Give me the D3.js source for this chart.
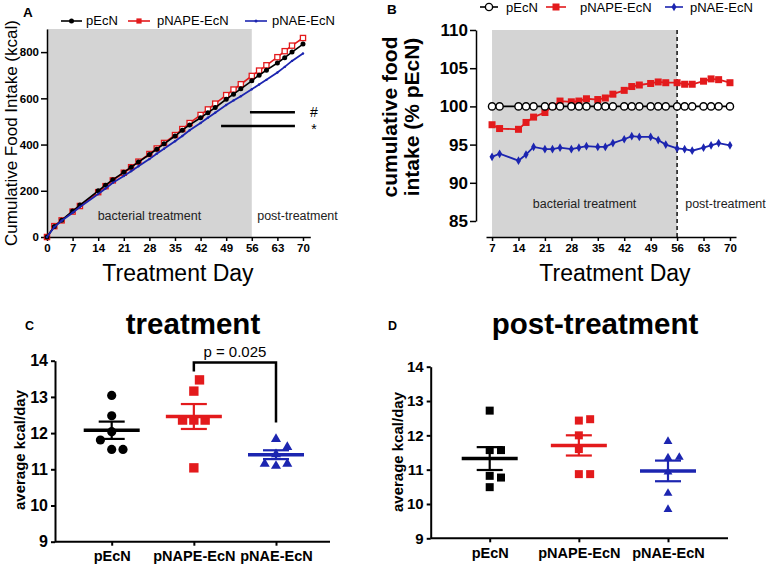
<!DOCTYPE html>
<html><head><meta charset="utf-8">
<script src="https://cdn.jsdelivr.net/npm/d3@7"></script>
<style>body{margin:0;background:#fff} text{font-family:"Liberation Sans",Arial,sans-serif}</style>
</head><body><svg id="c" width="766" height="566"></svg>
<script>
// ---------------- DATA ----------------
const groups = ["pEcN", "pNAPE-EcN", "pNAE-EcN"];
const colors = ["#000000", "#e31a1c", "#1c25b0"];

// Panel A: cumulative food intake (kcal)
const daysA = [0,2,4,7,9,14,16,18,21,23,25,28,30,32,35,37,39,42,44,46,49,51,53,56,58,60,63,65,67,70];
const cumPEcN  = [0,45,73,112,138,200,224,248,280,302,324,357,380,403,437,462,485,516,538,560,596,618,641,676,700,722,753,776,800,835];
const cumPNAPE = [0,47,72,110,134,194,220,245,278,302,326,359,383,407,441,467,493,528,552,577,614,638,661,697,720,743,778,804,828,861];
const cumPNAE  = [0,43,70,105,130,186,210,235,264,285,306,337,360,382,414,437,462,493,516,538,571,591,609,639,660,680,712,736,762,794];
const ticksAx = [0,7,14,21,28,35,42,49,56,63,70];
const ticksAy = [0,200,400,600,800];
const sigA = [{sym:"#", from:55.5, to:67.8, v:540}, {sym:"*", from:47.6, to:67.8, v:480}];

// Panel B: cumulative food intake (% pEcN)
const daysB = [7,9,14,16,18,21,23,25,28,30,32,35,37,39,42,44,46,49,51,53,56,58,60,63,65,67,70];
const pctPEcN  = [100,100,100,100,100,100,100,100,100,100,100,100,100,100,100,100,100,100,100,100,100,100,100,100,100,100,100];
const pctPNAPE = [97.6,97.1,97.0,97.9,98.6,99.2,100.0,100.7,100.6,100.7,101.0,100.9,101.1,101.6,102.1,102.6,102.8,103.0,103.2,103.1,103.1,102.9,102.9,103.3,103.6,103.5,103.1];
const pctPNAE  = [93.4,93.8,92.9,93.7,94.7,94.4,94.4,94.6,94.4,94.6,94.8,94.7,94.7,95.2,95.7,96.1,96.0,96.0,95.6,95.0,94.5,94.4,94.2,94.6,94.9,95.2,94.9];
const ticksBx = [7,14,21,28,35,42,49,56,63,70];
const ticksBy = [85,90,95,100,105,110];

// Panels C & D: average kcal/day per mouse
const ticksCD = [9,10,11,12,13,14];
const treatPEcN  = [13.04,12.48,12.04,11.81,11.55,11.55];
const treatPNAPE = [13.47,13.16,12.36,12.36,12.36,11.04];
const treatPNAE  = [11.86,11.64,11.44,11.18,11.12,11.18];
const postPEcN   = [12.72,11.57,11.57,10.82,10.77,10.49];
const postPNAPE  = [12.47,12.43,12.00,11.60,10.87,10.87];
const postPNAE   = [11.85,11.39,11.37,10.96,10.34,9.87];
const pAnnot = {label:"p = 0.025", leftV:13.70, topV:13.95, rightV:12.29};

// ---------------- DRAW ----------------
const svg = d3.select("#c");
svg.append("rect").attr("width",766).attr("height",566).attr("fill","#fff");
const FONT = '"Liberation Sans",Arial,sans-serif';
const intFmt = d3.format("d");

function styleAxis(g, fs, sw, weight) {
  g.select(".domain").attr("stroke","#000").attr("stroke-width",sw);
  g.selectAll(".tick line").attr("stroke","#000").attr("stroke-width",sw);
  g.selectAll(".tick text").attr("fill","#000").style("font-size",fs+"px").style("font-weight",weight||"bold").style("font-family",FONT);
}
function txt(g, x, y, s, size, opts) {
  opts = opts || {};
  const t = g.append("text").attr("x",x).attr("y",y).text(s)
    .style("font-size",size+"px").style("font-family",FONT)
    .style("font-weight",opts.weight||"normal").attr("fill",opts.fill||"#000")
    .attr("text-anchor",opts.anchor||"start");
  if (opts.rotate) t.attr("transform",`rotate(-90,${x},${y})`);
  return t;
}

// ===== Panel A =====
{
  const g = svg.append("g");
  const x = d3.scaleLinear().domain([0,72]).range([47,310.3]);
  const y = d3.scaleLinear().domain([0,900]).range([237,29]);
  g.append("rect").attr("x",x(0)).attr("y",y(900)).attr("width",x(56)-x(0)).attr("height",y(0)-y(900)).attr("fill","#d4d4d4");
  txt(g, (x(0)+x(56))/2, 220, "bacterial treatment", 12.5, {anchor:"middle", fill:"#222"});
  txt(g, 297.5, 220, "post-treatment", 12.5, {anchor:"middle", fill:"#222"});

  const ya = g.append("g").attr("transform",`translate(${x(0)},0)`)
    .call(d3.axisLeft(y).tickValues(ticksAy).tickFormat(intFmt).tickSize(6).tickSizeOuter(0).tickPadding(2));
  styleAxis(ya, 11.5, 1.5);
  const xa = g.append("g").attr("transform",`translate(0,${y(0)})`)
    .call(d3.axisBottom(x).tickValues(ticksAx).tickFormat(intFmt).tickSize(4).tickSizeOuter(0).tickPadding(3));
  styleAxis(xa, 11.5, 1.5);

  const series = [cumPEcN, cumPNAPE, cumPNAE].map(vals => daysA.map((d,i)=>({d, v:vals[i]})));
  const line = d3.line().x(p=>x(p.d)).y(p=>y(p.v));
  // red
  g.append("path").datum(series[1]).attr("d",line).attr("fill","none").attr("stroke",colors[1]).attr("stroke-width",1.6);
  g.selectAll(".ra").data(series[1]).join("rect").attr("x",p=>x(p.d)-2.6).attr("y",p=>y(p.v)-2.6)
    .attr("width",5.2).attr("height",5.2).attr("fill","#fff").attr("stroke",colors[1]).attr("stroke-width",1.3);
  // black
  g.append("path").datum(series[0]).attr("d",line).attr("fill","none").attr("stroke","#000").attr("stroke-width",1.6);
  g.selectAll(".ba").data(series[0]).join("circle").attr("cx",p=>x(p.d)).attr("cy",p=>y(p.v)).attr("r",2.5).attr("fill","#000");
  // blue
  g.append("path").datum(series[2]).attr("d",line).attr("fill","none").attr("stroke",colors[2]).attr("stroke-width",1.8);
  g.selectAll(".bl").data(series[2]).join("circle").attr("cx",p=>x(p.d)).attr("cy",p=>y(p.v)).attr("r",1.2).attr("fill",colors[2]);

  // significance lines
  sigA.forEach(s => {
    g.append("line").attr("x1",x(s.from)).attr("x2",x(s.to)).attr("y1",y(s.v)).attr("y2",y(s.v)).attr("stroke","#000").attr("stroke-width",2.5);
    txt(g, 314, y(s.v)+ (s.sym==="*"?8:5), s.sym, 14, {anchor:"middle", weight:"normal"});
  });

  // axis titles
  txt(g, 17, 133, "Cumulative Food Intake (kcal)", 17, {anchor:"middle", rotate:true});
  txt(g, (x(0)+x(70))/2 + 3, 281, "Treatment Day", 23, {anchor:"middle"});
  txt(g, 23, 17, "A", 13.5, {weight:"bold"});

  // legend
  const lg = [{x1:61,x2:82,tx:86},{x1:128,x2:150,tx:157},{x1:245,x2:267,tx:272}];
  lg.forEach((l,i) => {
    g.append("line").attr("x1",l.x1).attr("x2",l.x2).attr("y1",21).attr("y2",21).attr("stroke",colors[i]).attr("stroke-width",1.6);
    const cx=(l.x1+l.x2)/2;
    if (i===0) g.append("circle").attr("cx",cx).attr("cy",21).attr("r",2.5).attr("fill","#000");
    if (i===1) g.append("rect").attr("x",cx-2.6).attr("y",18.4).attr("width",5.2).attr("height",5.2).attr("fill",colors[1]);
    if (i===2) g.append("circle").attr("cx",cx).attr("cy",21).attr("r",1.5).attr("fill",colors[2]);
    txt(g, l.tx, 25, groups[i], 13);
  });
}

// ===== Panel B =====
{
  const g = svg.append("g");
  const x = d3.scaleLinear().domain([5.4,71.6]).range([486,736]);
  const y = d3.scaleLinear().domain([85,110]).range([221,30]);
  g.append("rect").attr("x",x(7)).attr("y",30).attr("width",x(56)-x(7)).attr("height",237-30).attr("fill","#d4d4d4");
  g.append("line").attr("x1",x(56)).attr("x2",x(56)).attr("y1",30).attr("y2",237).attr("stroke","#000").attr("stroke-width",1.4).attr("stroke-dasharray","4,3");
  txt(g, (x(7)+x(56))/2, 208, "bacterial treatment", 12.5, {anchor:"middle", fill:"#222"});
  txt(g, 725.5, 208, "post-treatment", 12.5, {anchor:"middle", fill:"#222"});

  const ya = g.append("g").attr("transform",`translate(476,0)`)
    .call(d3.axisLeft(y).tickValues(ticksBy).tickFormat(intFmt).tickSize(6).tickSizeOuter(0).tickPadding(2));
  styleAxis(ya, 17, 1.5);
  const xa = g.append("g").attr("transform",`translate(0,237)`)
    .call(d3.axisBottom(x).tickValues(ticksBx).tickFormat(intFmt).tickSize(4).tickSizeOuter(0).tickPadding(3));
  styleAxis(xa, 11.5, 1.5);

  const series = [pctPEcN, pctPNAPE, pctPNAE].map(vals => daysB.map((d,i)=>({d, v:vals[i]})));
  const line = d3.line().x(p=>x(p.d)).y(p=>y(p.v));
  g.append("path").datum(series[0]).attr("d",line).attr("fill","none").attr("stroke","#000").attr("stroke-width",1.6);
  g.append("path").datum(series[1]).attr("d",line).attr("fill","none").attr("stroke",colors[1]).attr("stroke-width",1.8);
  g.selectAll(".rb").data(series[1]).join("rect").attr("x",p=>x(p.d)-3.5).attr("y",p=>y(p.v)-3.5)
    .attr("width",7).attr("height",7).attr("fill",colors[1]);
  g.selectAll(".cb").data(series[0]).join("circle").attr("cx",p=>x(p.d)).attr("cy",p=>y(p.v)).attr("r",3.6)
    .attr("fill","#fff").attr("stroke","#000").attr("stroke-width",1.4);
  g.append("path").datum(series[2]).attr("d",line).attr("fill","none").attr("stroke",colors[2]).attr("stroke-width",1.8);
  const dia = d3.symbol().type(d3.symbolDiamond).size(22);
  g.selectAll(".db").data(series[2]).join("path").attr("d",dia).attr("transform",p=>`translate(${x(p.d)},${y(p.v)})`).attr("fill",colors[2]);

  txt(g, 397, 117, "cumulative food", 21, {anchor:"middle", weight:"bold", rotate:true});
  txt(g, 419, 117, "intake (% pEcN)", 21, {anchor:"middle", weight:"bold", rotate:true});
  txt(g, 615, 281, "Treatment Day", 23, {anchor:"middle"});
  txt(g, 387, 14, "B", 13.5, {weight:"bold"});

  const lg = [{x1:480,x2:498,tx:506},{x1:546,x2:566,tx:580},{x1:665,x2:683,tx:690}];
  lg.forEach((l,i) => {
    g.append("line").attr("x1",l.x1).attr("x2",l.x2).attr("y1",7).attr("y2",7).attr("stroke",colors[i]).attr("stroke-width",1.6);
    const cx=(l.x1+l.x2)/2;
    if (i===0) g.append("circle").attr("cx",cx).attr("cy",7).attr("r",3.6).attr("fill","#fff").attr("stroke","#000").attr("stroke-width",1.4);
    if (i===1) g.append("rect").attr("x",cx-3.5).attr("y",3.5).attr("width",7).attr("height",7).attr("fill",colors[1]);
    if (i===2) g.append("path").attr("d",dia).attr("transform",`translate(${cx},7)`).attr("fill",colors[2]);
    txt(g, l.tx, 11.5, groups[i], 13);
  });
}

// ===== Panels C & D =====
function swarm(values, y, d) {
  const order = values.map((v,i)=>({v,i})).sort((a,b)=>a.v-b.v);
  const placed = [], off = new Array(values.length);
  const cands = [0, d/2, -d/2, d, -d, 1.5*d, -1.5*d, 2*d, -2*d];
  for (const p of order) {
    const py = y(p.v);
    for (const c of cands) {
      if (placed.every(q => Math.hypot(q.x-c, q.y-py) >= d)) { placed.push({x:c,y:py}); off[p.i]=c; break; }
    }
  }
  return off;
}

function dotPanel(cfg) {
  const g = svg.append("g");
  const y = d3.scaleLinear().domain([9,14]).range([cfg.yb, cfg.yt]);
  const x = d3.scalePoint().domain(groups).range(cfg.xr);
  const ya = g.append("g").attr("transform",`translate(${cfg.ax},0)`)
    .call(d3.axisLeft(y).tickValues(ticksCD).tickFormat(intFmt).tickSize(4).tickSizeOuter(0).tickPadding(3));
  styleAxis(ya, cfg.tickFs, 2);
  g.append("line").attr("x1",cfg.ax).attr("x2",cfg.axEnd).attr("y1",y(9)).attr("y2",y(9)).attr("stroke","#000").attr("stroke-width",2);
  const xa = g.append("g").attr("transform",`translate(0,${y(9)})`)
    .call(d3.axisBottom(x).tickSize(4).tickSizeOuter(0).tickPadding(5));
  xa.select(".domain").remove();
  styleAxis(xa, 14.5, 2);

  const shapes = cfg.shapes;
  cfg.data.forEach((vals, gi) => {
    const cx = x(groups[gi]);
    const offs = swarm(vals, y, 11.3);
    const sym = d3.symbol().type(shapes[gi].type).size(shapes[gi].size);
    g.selectAll(null).data(vals).join("path").attr("d",sym)
      .attr("transform",(v,i)=>`translate(${cx+offs[i]},${y(v) + (shapes[gi].type===d3.symbolTriangle?1:0)})`)
      .attr("fill",colors[gi]);
    const m = d3.mean(vals), sem = d3.deviation(vals)/Math.sqrt(vals.length);
    g.append("line").attr("x1",cx-28).attr("x2",cx+28).attr("y1",y(m)).attr("y2",y(m)).attr("stroke",colors[gi]).attr("stroke-width",3.5);
    [m+sem, m-sem].forEach(v => g.append("line").attr("x1",cx-13).attr("x2",cx+13).attr("y1",y(v)).attr("y2",y(v)).attr("stroke",colors[gi]).attr("stroke-width",2.2));
    g.append("line").attr("x1",cx).attr("x2",cx).attr("y1",y(m+sem)).attr("y2",y(m-sem)).attr("stroke",colors[gi]).attr("stroke-width",2.2);
  });

  txt(g, cfg.labX, cfg.labBase, "average kcal/day", 15, {anchor:"middle", weight:"bold", rotate:true});
  txt(g, cfg.titleX, 334, cfg.title, 29.5, {anchor:"middle", weight:"bold"});
  txt(g, cfg.letterX, 330, cfg.letter, 12.5, {weight:"bold"});
  if (cfg.pAnnot) {
    const a = cfg.pAnnot, x1 = x(groups[1]), x2 = x(groups[2]);
    g.append("path").attr("d",`M${x1},${y(a.leftV)}V${y(a.topV)}H${x2}V${y(a.rightV)}`)
      .attr("fill","none").attr("stroke","#000").attr("stroke-width",2.5);
    txt(g, (x1+x2)/2, y(a.topV)-6, a.label, 15, {anchor:"middle"});
  }
  return {x, y};
}

dotPanel({
  yb:541.7, yt:360.7, xr:[111.7,276], ax:55, axEnd:330, tickFs:16,
  data:[treatPEcN, treatPNAPE, treatPNAE],
  shapes:[{type:d3.symbolCircle,size:66},{type:d3.symbolSquare,size:88},{type:d3.symbolTriangle,size:44}],
  labX:25, labBase:450, title:"treatment", titleX:193, letter:"C", letterX:25, pAnnot:pAnnot
});
dotPanel({
  yb:538.3, yt:366.7, xr:[489.7,668], ax:430.7, axEnd:728, tickFs:15,
  data:[postPEcN, postPNAPE, postPNAE],
  shapes:[{type:d3.symbolSquare,size:64},{type:d3.symbolSquare,size:64},{type:d3.symbolTriangle,size:34}],
  labX:403, labBase:452, title:"post-treatment", titleX:595, letter:"D", letterX:388
});
</script></body></html>
